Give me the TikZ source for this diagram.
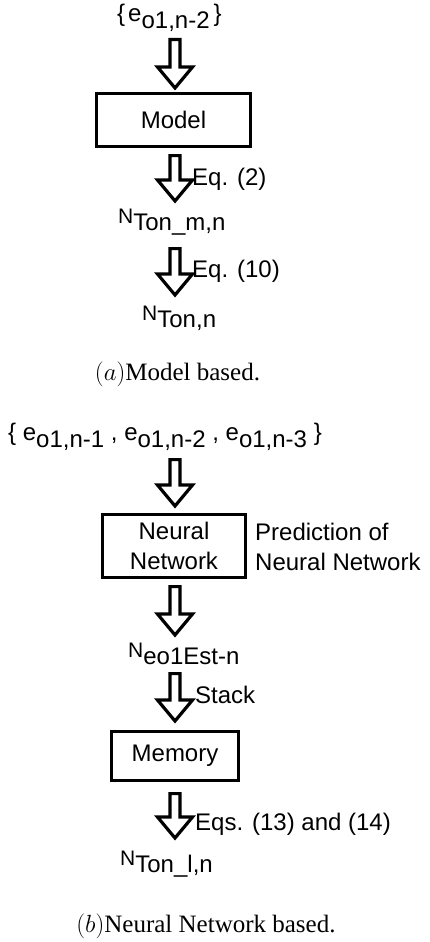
\documentclass[tikz,border=0pt]{standalone}
\usepackage{fontspec}
\setmainfont{Liberation Serif}
\setsansfont{Liberation Sans}
\usetikzlibrary{calc}
\newcommand\lowsub[1]{\raisebox{-7pt}{\fontsize{24}{24}\selectfont #1}}
\newcommand\smallN{{\fontsize{21}{21}\selectfont N}}
\newcommand\blockarrow[2]{%
  \draw[blk] ($(#1)+(-5,0)$) -- ($(#2)+(-5,-21)$) -- ($(#2)+(-17.5,-21)$) -- (#2)
    -- ($(#2)+(17.5,-21)$) -- ($(#2)+(5,-21)$) -- ($(#1)+(5,0)$) -- cycle;}
\begin{document}
\begin{tikzpicture}[x=1pt,y=-1pt,
  lbl/.style={font=\sffamily\fontsize{24}{30}\selectfont, inner sep=0pt},
  box/.style={draw, line width=2.8pt, inner sep=0pt, lbl},
  blk/.style={line width=3.2pt, line join=miter, fill=white},
  captext/.style={font=\rmfamily\fontsize{25}{30}\selectfont, inner sep=0pt}]
\useasboundingbox (0,0) rectangle (429,942);

% ---------- (a) Model based ----------
\node[lbl, anchor=base west] (inA) at (117,22) {\{\kern3pt e\lowsub{o1,n-2}\kern4pt\}};
\node[box, minimum width=154, minimum height=53] (model) at (173.5,120) {Model};
\node[lbl, anchor=base west] (ntonm) at (118,223) {\smallN\lowsub{Ton\_m,n}};
\node[lbl, anchor=base west] (nton) at (142,320) {\smallN\lowsub{Ton,n}};
\node[lbl, anchor=base west] (eq2) at (192,185) {Eq. (2)};
\node[lbl, anchor=base west] (eq10) at (192,277) {Eq. (10)};
\node[captext, anchor=base] (capA) at (177.5,380) {$(a)$Model based.};

\coordinate (a1s) at (175,39.6);  \coordinate (a1t) at (175,88);
\coordinate (a2s) at (175,155.6); \coordinate (a2t) at (175,201);
\coordinate (a3s) at (175,248.6); \coordinate (a3t) at (175,295);
\blockarrow{a1s}{a1t}
\blockarrow{a2s}{a2t}
\blockarrow{a3s}{a3t}

% ---------- (b) Neural Network based ----------
\node[lbl, anchor=base west] (inB) at (8,440)
  {\{ e\lowsub{o1,n-1} , e\lowsub{o1,n-2} , e\lowsub{o1,n-3} \}};
\node[box, minimum width=143, minimum height=63, align=center] (nn) at (174,546) {Neural\\Network};
\node[lbl, anchor=base west, align=left] (pred) at (255,570) {Prediction of\\Neural Network};
\node[lbl, anchor=base west] (nest) at (128,657) {\smallN\lowsub{eo1Est-n}};
\node[lbl, anchor=base west] (stack) at (195,703) {Stack};
\node[box, minimum width=127, minimum height=49] (mem) at (175,756) {Memory};
\node[lbl, anchor=base west] (eqs) at (195,830) {Eqs. (13) and (14)};
\node[lbl, anchor=base west] (ntonl) at (120,865) {\smallN\lowsub{Ton\_l,n}};
\node[captext, anchor=base] (capB) at (206,932) {$(b)$Neural Network based.};

\coordinate (b1s) at (175,459.6); \coordinate (b1t) at (175,506);
\coordinate (b2s) at (175,586.6); \coordinate (b2t) at (175,635);
\coordinate (b3s) at (175,673.6); \coordinate (b3t) at (175,721);
\coordinate (b4s) at (175,793.6); \coordinate (b4t) at (175,838);
\blockarrow{b1s}{b1t}
\blockarrow{b2s}{b2t}
\blockarrow{b3s}{b3t}
\blockarrow{b4s}{b4t}
\end{tikzpicture}
\end{document}
